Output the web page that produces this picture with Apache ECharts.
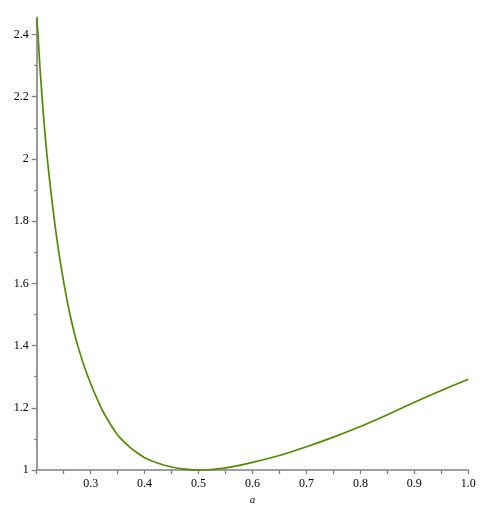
<!DOCTYPE html>
<html>
<head>
<meta charset="utf-8">
<script src="https://cdn.jsdelivr.net/npm/echarts@6/dist/echarts.min.js"></script>
<style>
  html, body { margin: 0; padding: 0; background: #fff; }
  #chart { width: 499px; height: 511px; }
</style>
</head>
<body>
<div id="chart"></div>
<script>
// values
var aValues = [0.2000, 0.2024, 0.2058, 0.2099, 0.2144, 0.2197, 0.2260, 0.2330, 0.2410, 0.2505,
               0.2617, 0.2760, 0.2950, 0.3195, 0.335, 0.35, 0.3625, 0.375, 0.3875, 0.40,
               0.425, 0.45, 0.475, 0.50, 0.525, 0.55, 0.60, 0.65, 0.70, 0.75, 0.80, 0.85,
               0.90, 0.95, 1.00];
var fValues = [2.452, 2.400, 2.300, 2.200, 2.100, 2.000, 1.900, 1.800, 1.700, 1.600,
               1.500, 1.400, 1.300, 1.200, 1.152, 1.113, 1.090, 1.070, 1.054, 1.040,
               1.022, 1.010, 1.003, 1.000, 1.002, 1.007, 1.025, 1.047, 1.075, 1.106, 1.140, 1.178,
               1.218, 1.256, 1.292];
var yMajor = [1, 1.2, 1.4, 1.6, 1.8, 2, 2.2, 2.4];
var yMinor = [1.1, 1.3, 1.5, 1.7, 1.9, 2.1, 2.3];
var xLabels = [0.3, 0.4, 0.5, 0.6, 0.7, 0.8, 0.9, 1.0];

var points = aValues.map(function (a, i) { return [a, fValues[i]]; });

var axisGray = '#808080';
var myChart = echarts.init(document.getElementById('chart'));

var option = {
    animation: false,
    grid: { left: 36.7, right: 30.7, top: 17.3, bottom: 39 },
    xAxis: {
        type: 'value',
        min: 0.2,
        max: 1.0,
        interval: 0.05,
        name: 'a',
        nameLocation: 'middle',
        nameGap: 23,
        nameTextStyle: { fontFamily: 'Liberation Serif', fontStyle: 'italic', fontSize: 11, color: '#000' },
        splitLine: { show: false },
        axisLine: { lineStyle: { color: axisGray, width: 1.6 } },
        axisTick: { length: 4, lineStyle: { color: axisGray, width: 1.3 } },
        axisLabel: {
            margin: 8,
            fontFamily: 'Liberation Serif',
            fontSize: 12,
            color: '#000',
            customValues: xLabels,
            formatter: function (v) { return v.toFixed(1); }
        }
    },
    yAxis: [{
        type: 'value',
        min: 1,
        max: 2.455,
        position: 'left',
        splitLine: { show: false },
        axisLine: { show: true, lineStyle: { color: axisGray, width: 1.6 } },
        axisTick: { show: true, length: 5, customValues: yMajor, lineStyle: { color: axisGray, width: 1.3 } },
        axisLabel: {
            margin: 8,
            fontFamily: 'Liberation Serif',
            fontSize: 12,
            color: '#000',
            customValues: yMajor
        }
    }, {
        type: 'value',
        min: 1,
        max: 2.455,
        position: 'left',
        offset: 0,
        splitLine: { show: false },
        axisLine: { show: false },
        axisTick: { show: true, length: 2.5, customValues: yMinor, lineStyle: { color: axisGray, width: 1.3 } },
        axisLabel: { show: false }
    }],
    series: [{
        type: 'line',
        data: points,
        showSymbol: false,
        smooth: 0.3,
        lineStyle: { color: '#548a00', width: 1.7 }
    }]
};

myChart.setOption(option);
</script>
</body>
</html>
